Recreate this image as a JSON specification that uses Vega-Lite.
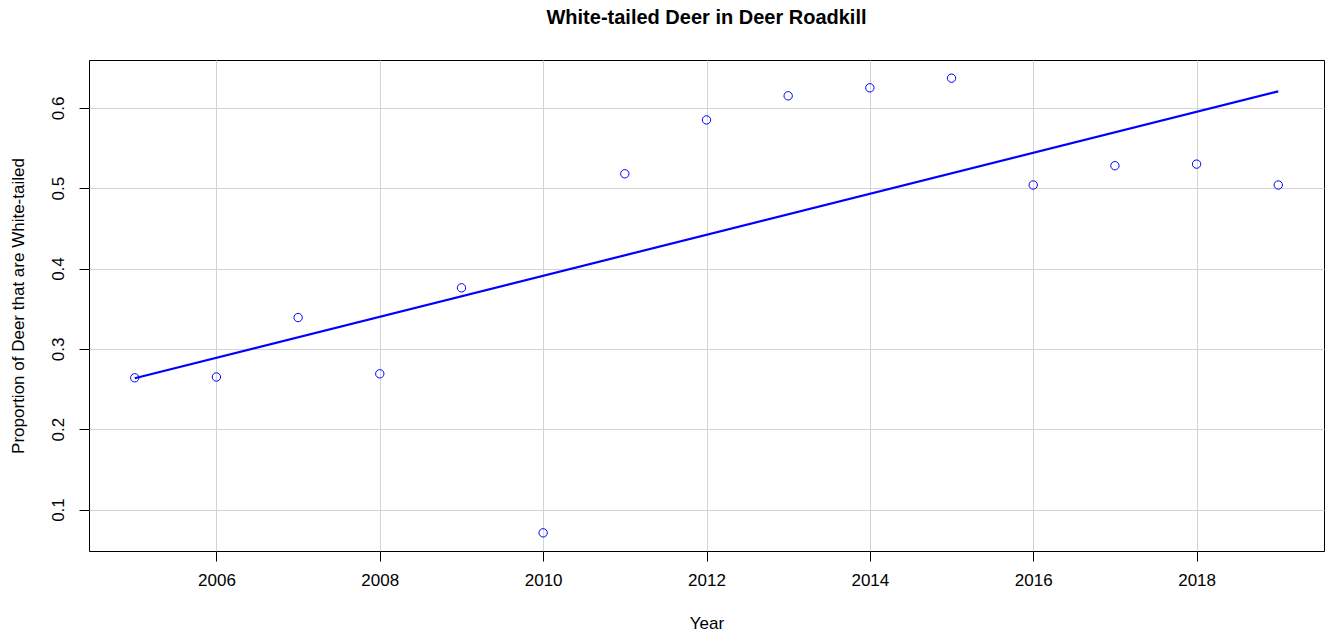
{
  "$schema": "https://vega.github.io/schema/vega-lite/v6.json",
  "autosize": {"type": "none"},
  "width": 1235,
  "height": 491,
  "padding": {"left": 89, "top": 60, "right": 6, "bottom": 84},
  "background": "white",
  "title": {
    "text": "White-tailed Deer in Deer Roadkill",
    "font": "Liberation Sans",
    "fontSize": 20,
    "fontWeight": "bold",
    "color": "black",
    "anchor": "middle",
    "offset": 32
  },
  "config": {
    "view": {"stroke": "black", "strokeWidth": 1},
    "axis": {
      "labelFont": "Liberation Sans",
      "titleFont": "Liberation Sans",
      "labelFontSize": 17,
      "titleFontSize": 17,
      "labelColor": "black",
      "titleColor": "black",
      "titleFontWeight": "normal",
      "tickColor": "black",
      "tickSize": 10,
      "domain": false,
      "gridColor": "#d3d3d3",
      "gridWidth": 1
    }
  },
  "data": {
    "values": [
      {"year": 2005, "proportion": 0.264},
      {"year": 2006, "proportion": 0.265},
      {"year": 2007, "proportion": 0.339},
      {"year": 2008, "proportion": 0.269},
      {"year": 2009, "proportion": 0.376},
      {"year": 2010, "proportion": 0.071},
      {"year": 2011, "proportion": 0.518},
      {"year": 2012, "proportion": 0.585},
      {"year": 2013, "proportion": 0.615},
      {"year": 2014, "proportion": 0.625},
      {"year": 2015, "proportion": 0.637},
      {"year": 2016, "proportion": 0.504},
      {"year": 2017, "proportion": 0.528},
      {"year": 2018, "proportion": 0.530},
      {"year": 2019, "proportion": 0.504}
    ]
  },
  "encoding": {
    "x": {
      "field": "year",
      "type": "quantitative",
      "scale": {"domain": [2004.44, 2019.56], "nice": false, "zero": false},
      "axis": {
        "title": "Year",
        "values": [2006, 2008, 2010, 2012, 2014, 2016, 2018],
        "format": "d",
        "labelPadding": 11,
        "titlePadding": 27
      }
    },
    "y": {
      "field": "proportion",
      "type": "quantitative",
      "scale": {"domain": [0.0484, 0.6596], "nice": false, "zero": false},
      "axis": {
        "title": "Proportion of Deer that are White-tailed",
        "values": [0.1, 0.2, 0.3, 0.4, 0.5, 0.6],
        "format": ".1f",
        "labelAngle": -90,
        "labelAlign": "center",
        "labelBaseline": "bottom",
        "labelPadding": 12,
        "titlePadding": 22
      }
    }
  },
  "layer": [
    {
      "mark": {"type": "point", "shape": "circle", "filled": false, "color": "blue", "size": 70, "strokeWidth": 1, "opacity": 1}
    },
    {
      "transform": [{"regression": "proportion", "on": "year"}],
      "mark": {"type": "line", "color": "blue", "strokeWidth": 2.2}
    }
  ]
}
